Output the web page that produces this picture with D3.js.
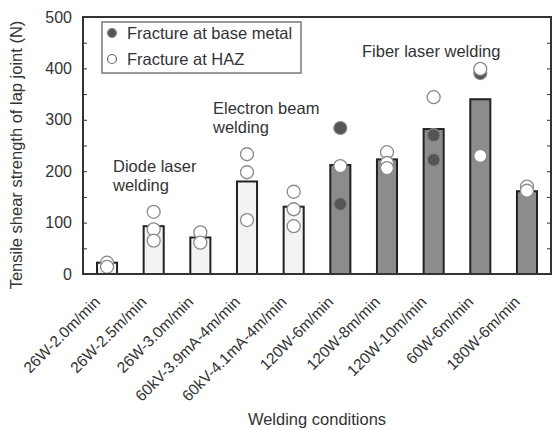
<!DOCTYPE html>
<html>
<head>
<meta charset="utf-8">
<script src="https://cdn.jsdelivr.net/npm/d3@7"></script>
<style>
  body { margin: 0; background: #fff; }
  svg { display: block; font-family: "Liberation Sans", Arial, sans-serif; }
  text { fill: #333; }
</style>
</head>
<body>
<svg id="chart" width="553" height="430"></svg>
<script>
// welding conditions and mean lap joint strength (N)
var conditions = ["26W-2.0m/min", "26W-2.5m/min", "26W-3.0m/min", "60kV-3.9mA-4m/min",
  "60kV-4.1mA-4m/min", "120W-6m/min", "120W-8m/min", "120W-10m/min", "60W-6m/min", "180W-6m/min"];
var strength = [22, 93, 71, 180, 131, 212, 223, 282, 340, 161];
var process = ["diode", "diode", "diode", "ebw", "ebw", "fiber", "fiber", "fiber", "fiber", "fiber"];

// individual specimens
var baseMetal = [
  { c: "120W-6m/min", v: 284 }, { c: "120W-6m/min", v: 136 },
  { c: "120W-10m/min", v: 270 }, { c: "120W-10m/min", v: 222 },
  { c: "60W-6m/min", v: 391 }
];
var haz = [
  { c: "26W-2.0m/min", v: 22 }, { c: "26W-2.0m/min", v: 14 },
  { c: "26W-2.5m/min", v: 121 }, { c: "26W-2.5m/min", v: 87 }, { c: "26W-2.5m/min", v: 65 },
  { c: "26W-3.0m/min", v: 81 }, { c: "26W-3.0m/min", v: 61 },
  { c: "60kV-3.9mA-4m/min", v: 233 }, { c: "60kV-3.9mA-4m/min", v: 198 }, { c: "60kV-3.9mA-4m/min", v: 105 },
  { c: "60kV-4.1mA-4m/min", v: 160 }, { c: "60kV-4.1mA-4m/min", v: 126 }, { c: "60kV-4.1mA-4m/min", v: 93 },
  { c: "120W-6m/min", v: 210 },
  { c: "120W-8m/min", v: 237 }, { c: "120W-8m/min", v: 216 }, { c: "120W-8m/min", v: 206 },
  { c: "120W-10m/min", v: 344 },
  { c: "60W-6m/min", v: 399 }, { c: "60W-6m/min", v: 230 },
  { c: "180W-6m/min", v: 170 }, { c: "180W-6m/min", v: 162 }
];
var yTicks = [0, 100, 200, 300, 400, 500];

var plotLeft = 83, plotRight = 551, plotTop = 17, plotBottom = 274;
var svg = d3.select("#chart");

var x = d3.scaleBand()
  .domain(conditions)
  .range([plotLeft, plotRight])
  .paddingInner(0.57)
  .paddingOuter(0.3);

var y = d3.scaleLinear()
  .domain([0, 500])
  .range([plotBottom, plotTop]);

// bars
svg.selectAll(".bar")
  .data(strength)
  .enter()
  .append("rect")
  .attr("class", "bar")
  .attr("x", function(d, i) { return x(conditions[i]); })
  .attr("y", function(d) { return y(d); })
  .attr("width", x.bandwidth())
  .attr("height", function(d) { return y(0) - y(d); })
  .attr("fill", function(d, i) { return process[i] == "fiber" ? "#8c8c8c" : "#f3f3f3"; })
  .attr("stroke", "#222")
  .attr("stroke-width", 2);

// specimens
svg.selectAll(".base")
  .data(baseMetal)
  .enter()
  .append("circle")
  .attr("class", "base")
  .attr("cx", function(d) { return x(d.c) + x.bandwidth() / 2; })
  .attr("cy", function(d) { return y(d.v); })
  .attr("r", 6.5)
  .attr("fill", "#555")
  .attr("stroke", "#888")
  .attr("stroke-width", 1.2);

svg.selectAll(".haz")
  .data(haz)
  .enter()
  .append("circle")
  .attr("class", "haz")
  .attr("cx", function(d) { return x(d.c) + x.bandwidth() / 2; })
  .attr("cy", function(d) { return y(d.v); })
  .attr("r", 6.5)
  .attr("fill", "#fff")
  .attr("stroke", "#8a8a8a")
  .attr("stroke-width", 1.3);

// axes
var yAxis = svg.append("g")
  .attr("transform", "translate(" + plotLeft + ",0)")
  .call(d3.axisLeft(y).tickValues(yTicks).tickSize(0).tickPadding(11));
yAxis.select(".domain").remove();
yAxis.selectAll("text").style("font-size", "16px").attr("fill", "#333");

svg.append("g")
  .attr("transform", "translate(" + plotLeft + ",0)")
  .call(d3.axisLeft(y).ticks(10).tickSize(-4).tickFormat(""))
  .call(function(g) { g.select(".domain").remove(); g.selectAll("line").attr("stroke", "#333"); });

svg.append("g")
  .attr("transform", "translate(" + plotRight + ",0)")
  .call(d3.axisRight(y).ticks(10).tickSize(-4).tickFormat(""))
  .call(function(g) { g.select(".domain").remove(); g.selectAll("line").attr("stroke", "#333"); });

svg.append("rect")
  .attr("x", plotLeft)
  .attr("y", plotTop)
  .attr("width", plotRight - plotLeft)
  .attr("height", plotBottom - plotTop)
  .attr("fill", "none")
  .attr("stroke", "#333")
  .attr("stroke-width", 2);

// rotated condition labels
svg.selectAll(".xlab")
  .data(conditions)
  .enter()
  .append("text")
  .attr("class", "xlab")
  .attr("transform", function(d) {
    return "translate(" + (x(d) + x.bandwidth() / 2 - 6) + ",303) rotate(-45)";
  })
  .attr("text-anchor", "end")
  .style("font-size", "15.5px")
  .text(function(d) { return d; });

svg.append("text")
  .attr("x", 317)
  .attr("y", 425)
  .attr("text-anchor", "middle")
  .style("font-size", "16.5px")
  .text("Welding conditions");

svg.append("text")
  .attr("transform", "translate(22,155) rotate(-90)")
  .attr("text-anchor", "middle")
  .style("font-size", "16.5px")
  .text("Tensile shear strength of lap joint (N)");

// process annotations
var notes = [
  { t: ["Diode laser", "welding"], x: 113, y: 172 },
  { t: ["Electron beam", "welding"], x: 213, y: 114 },
  { t: ["Fiber laser welding"], x: 362, y: 57 }
];
notes.forEach(function(n) {
  var t = svg.append("text").attr("x", n.x).attr("y", n.y).style("font-size", "16.5px");
  n.t.forEach(function(line, i) {
    t.append("tspan").attr("x", n.x).attr("dy", i == 0 ? 0 : 19).text(line);
  });
});

// legend
var legend = svg.append("g");
legend.append("rect")
  .attr("x", 102).attr("y", 22)
  .attr("width", 199).attr("height", 51)
  .attr("fill", "#fff")
  .attr("stroke", "#777")
  .attr("stroke-width", 1.5);
var legendItems = [
  { label: "Fracture at base metal", fill: "#555", stroke: "#888" },
  { label: "Fracture at HAZ", fill: "#fff", stroke: "#666" }
];
legendItems.forEach(function(d, i) {
  legend.append("circle")
    .attr("cx", 112).attr("cy", 33 + i * 26)
    .attr("r", 4.5)
    .attr("fill", d.fill)
    .attr("stroke", d.stroke)
    .attr("stroke-width", 1.2);
  legend.append("text")
    .attr("x", 127).attr("y", 39 + i * 26)
    .style("font-size", "16.5px")
    .text(d.label);
});
</script>
</body>
</html>
